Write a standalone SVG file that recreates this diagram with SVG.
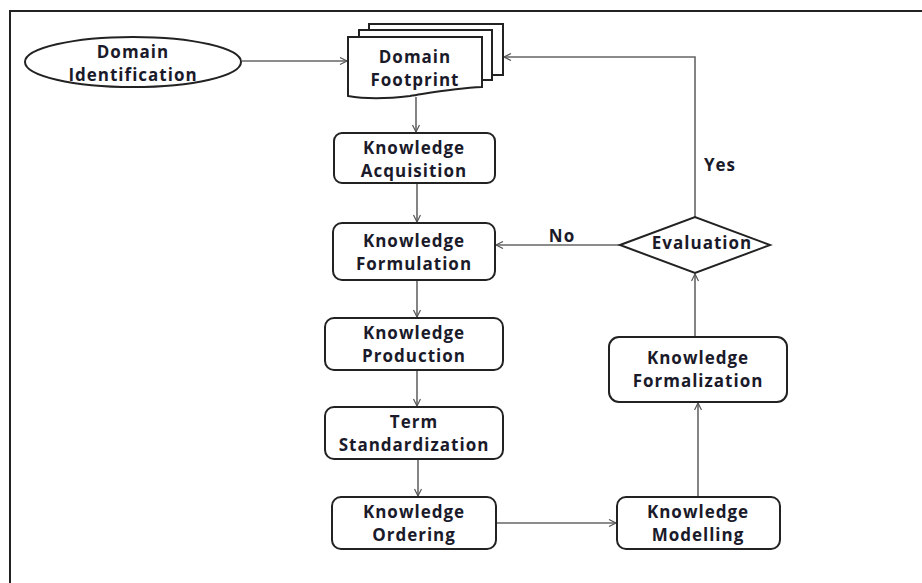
<svg xmlns="http://www.w3.org/2000/svg" width="922" height="583" viewBox="0 0 922 583">
<defs>
<marker id="arr" markerWidth="10" markerHeight="10" refX="8" refY="4" orient="auto" markerUnits="userSpaceOnUse">
<path d="M1,0.5 L8,4 L1,7.5" fill="none" stroke="#555" stroke-width="1.2"/>
</marker>
</defs>
<style>
.box{fill:#fff;stroke:#222;stroke-width:2}
.t{font-family:"Open Sans","Liberation Sans",sans-serif;font-weight:700;font-size:17px;letter-spacing:1px;fill:#1a1a2a;text-anchor:middle}
.c{fill:none;stroke:#666;stroke-width:1.6}
</style>
<rect width="922" height="583" fill="#fff"/>
<path d="M10,583 V11 H922" fill="none" stroke="#222" stroke-width="2"/>

<g id="connectors">
<path class="c" d="M242,61 H347" marker-end="url(#arr)"/>
<path class="c" d="M416,97 V132" marker-end="url(#arr)"/>
<path class="c" d="M417,183 V222" marker-end="url(#arr)"/>
<path class="c" d="M620,245 H496" marker-end="url(#arr)"/>
<path class="c" d="M417,280 V317" marker-end="url(#arr)"/>
<path class="c" d="M417,370 V406" marker-end="url(#arr)"/>
<path class="c" d="M418,459 V496" marker-end="url(#arr)"/>
<path class="c" d="M496,523 H616" marker-end="url(#arr)"/>
<path class="c" d="M698,497 V403" marker-end="url(#arr)"/>
<path class="c" d="M695,337 V274" marker-end="url(#arr)"/>
<path class="c" d="M695,217 V57 H504" marker-end="url(#arr)"/>
<text class="t" x="562" y="242">No</text>
<text class="t" x="720" y="171">Yes</text>
</g>

<g id="domain-identification">
<ellipse class="box" cx="133" cy="62" rx="108" ry="25"/>
<text class="t" x="133" y="58">Domain</text>
<text class="t" x="133" y="81">Identification</text>
</g>

<g id="domain-footprint">
<path class="box" d="M369,24 H503 V75 H492 V30 H369 Z"/>
<path class="box" d="M359,30 H492 V80 H482 V37 H359 Z"/>
<path class="box" d="M348,37 H482 V87 C455,88 435,92 410,96 C385,99 365,99 348,96 Z"/>
<text class="t" x="415" y="63">Domain</text>
<text class="t" x="415" y="86">Footprint</text>
</g>

<g id="knowledge-acquisition">
<rect class="box" x="334" y="133" width="161" height="50" rx="8"/>
<text class="t" x="414" y="154">Knowledge</text>
<text class="t" x="414" y="177">Acquisition</text>
</g>

<g id="knowledge-formulation">
<rect class="box" x="333" y="223" width="162" height="57" rx="9"/>
<text class="t" x="414" y="247">Knowledge</text>
<text class="t" x="414" y="270">Formulation</text>
</g>

<g id="evaluation">
<path class="box" d="M620,245 L695,217 L770,245 L695,273 Z"/>
<text class="t" x="702" y="249">Evaluation</text>
</g>

<g id="knowledge-production">
<rect class="box" x="325" y="318" width="178" height="52" rx="9"/>
<text class="t" x="414" y="339">Knowledge</text>
<text class="t" x="414" y="362">Production</text>
</g>

<g id="term-standardization">
<rect class="box" x="325" y="407" width="178" height="52" rx="9"/>
<text class="t" x="414" y="428">Term</text>
<text class="t" x="414" y="451">Standardization</text>
</g>

<g id="knowledge-ordering">
<rect class="box" x="332" y="497" width="164" height="52" rx="9"/>
<text class="t" x="414" y="518">Knowledge</text>
<text class="t" x="414" y="541">Ordering</text>
</g>

<g id="knowledge-modelling">
<rect class="box" x="617" y="497" width="163" height="52" rx="9"/>
<text class="t" x="698" y="518">Knowledge</text>
<text class="t" x="698" y="541">Modelling</text>
</g>

<g id="knowledge-formalization">
<rect class="box" x="609" y="337" width="178" height="65" rx="10"/>
<text class="t" x="698" y="364">Knowledge</text>
<text class="t" x="698" y="387">Formalization</text>
</g>
</svg>
